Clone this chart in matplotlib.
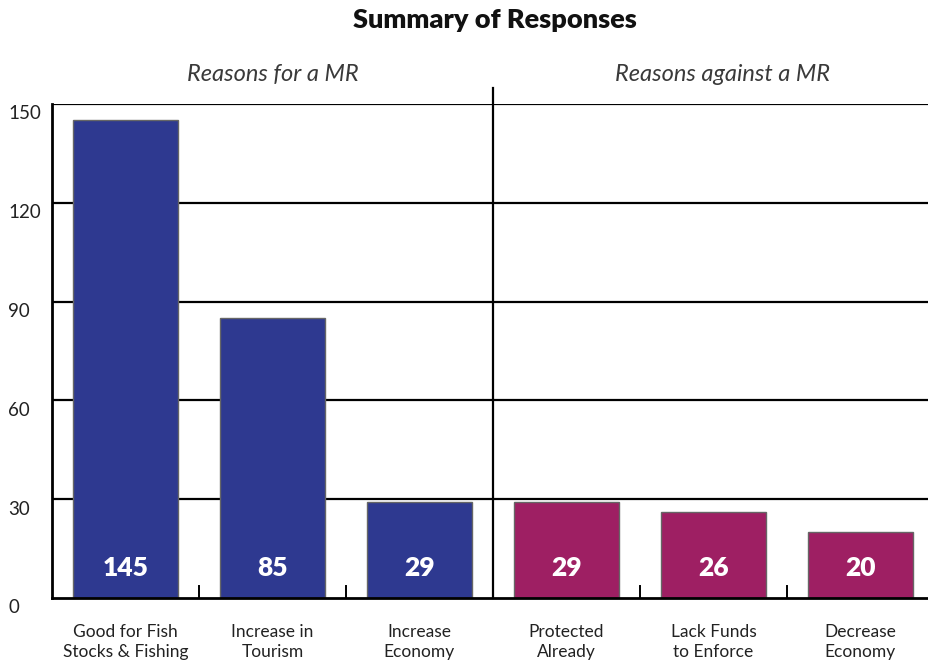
import matplotlib.pyplot as plt

plt.rcParams['font.family'] = ['Lato', 'DejaVu Sans']

# data
categories = ["Good for Fish\nStocks & Fishing", "Increase in\nTourism", "Increase\nEconomy",
              "Protected\nAlready", "Lack Funds\nto Enforce", "Decrease\nEconomy"]
values = [145, 85, 29, 29, 26, 20]
groups = ["for", "for", "for", "against", "against", "against"]
group_titles = ["Reasons for a MR", "Reasons against a MR"]
yticks = [0, 30, 60, 90, 120, 150]

blue = "#2E3990"
magenta = "#9E1F63"
colors = [blue if g == "for" else magenta for g in groups]

fig = plt.figure(figsize=(9.29, 6.63), dpi=100)
ax = fig.add_axes([52 / 929, 1 - 598 / 663, 877 / 929, 494 / 663])

xs = list(range(len(categories)))
ax.set_xlim(-0.5, 5.466)
ax.set_ylim(0, 150)

# grid lines behind bars
for v in yticks[1:]:
    ax.axhline(v, color='black', lw=1.6, zorder=1)

ax.bar(xs, values, width=0.72, color=colors, edgecolor='#666666', lw=1.0, zorder=2)

for x, v in zip(xs, values):
    ax.text(x, 9.2, str(v), ha='center', va='center', color='white',
            fontsize=19, fontweight='heavy', zorder=3)

# divider between the two groups
ax.plot([2.5, 2.5], [0, 155], color='black', lw=1.6, clip_on=False, zorder=3)
# small separators
for t in [0.5, 1.5, 3.5, 4.5]:
    ax.plot([t, t], [0, 3.6], color='black', lw=1.4, zorder=3)

for s in ['top', 'right']:
    ax.spines[s].set_visible(False)
ax.spines['left'].set_linewidth(2)
ax.spines['bottom'].set_linewidth(2)
ax.spines['left'].set_zorder(4)
ax.spines['bottom'].set_zorder(4)

ax.set_xticks([])
ax.set_yticks([])

for v in yticks:
    ax.text(-0.05, v - 3.0, str(v), transform=ax.get_yaxis_transform(),
            ha='left', va='center', fontsize=13.5, color='#222222')

for x, lab in zip(xs, categories):
    ax.text(x, -7.8, lab, ha='center', va='top', fontsize=12.5,
            color='#222222', linespacing=1.3)

ax.text(1, 159, group_titles[0], ha='center', va='center', fontsize=17,
        style='italic', fontweight='normal', color='#3a3a3a')
ax.text(4.06, 159, group_titles[1], ha='center', va='center', fontsize=17,
        style='italic', fontweight='normal', color='#3a3a3a')

fig.text(495 / 929, 1 - 20 / 663, "Summary of Responses", ha='center', va='center',
         fontsize=19.5, fontweight='heavy', color='#111111')

fig.savefig("out.png", dpi=100)
